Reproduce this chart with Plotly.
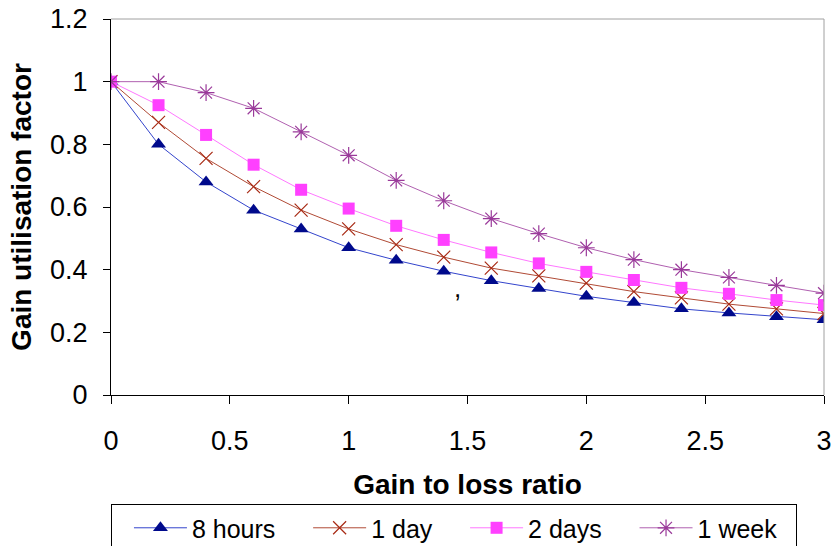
import plotly.graph_objects as go

x_vals = [0, 0.2, 0.4, 0.6, 0.8, 1.0, 1.2, 1.4, 1.6, 1.8, 2.0, 2.2, 2.4, 2.6, 2.8, 3.0]
hours8 = [1.0, 0.80, 0.68, 0.59, 0.53, 0.47, 0.43, 0.395, 0.365, 0.34, 0.315, 0.295, 0.275, 0.262, 0.25, 0.24]
day1 = [1.0, 0.87, 0.755, 0.665, 0.59, 0.53, 0.48, 0.44, 0.405, 0.38, 0.357, 0.33, 0.31, 0.29, 0.275, 0.26]
days2 = [1.0, 0.925, 0.83, 0.735, 0.655, 0.595, 0.54, 0.495, 0.455, 0.42, 0.393, 0.367, 0.342, 0.323, 0.303, 0.287]
week1 = [1.0, 1.0, 0.965, 0.915, 0.84, 0.765, 0.685, 0.62, 0.563, 0.515, 0.47, 0.432, 0.40, 0.375, 0.35, 0.325]
names = ["8 hours", "1 day", "2 days", "1 week"]

FONT = "Liberation Sans, Arial, sans-serif"
PAD = "\u00a0" * 4

fig = go.Figure()
fig.add_trace(go.Scatter(x=x_vals, y=hours8, name=names[0] + PAD, mode="lines+markers",
                         line=dict(color="#3344cc", width=1),
                         marker=dict(symbol="triangle-up", size=13, color="#000a8c")))
fig.add_trace(go.Scatter(x=x_vals, y=day1, name=names[1] + PAD, mode="lines+markers",
                         line=dict(color="#b04a35", width=1),
                         marker=dict(symbol="x-thin-open", size=13, color="#a82a14",
                                     line=dict(width=1.2, color="#a82a14"))))
fig.add_trace(go.Scatter(x=x_vals, y=days2, name=names[2] + PAD, mode="lines+markers",
                         line=dict(color="#ff77ff", width=1),
                         marker=dict(symbol="square", size=12, color="#ff40ff")))
fig.add_trace(go.Scatter(x=x_vals, y=week1, name=names[3] + "\u00a0\u00a0", mode="lines+markers",
                         line=dict(color="#b060b0", width=1),
                         marker=dict(symbol="asterisk-open", size=14, color="#9a3a9a",
                                     line=dict(width=1.2, color="#9a3a9a"))))

fig.add_annotation(x=1.46, y=0.34, text=",", showarrow=False, xref="x", yref="y",
                   font=dict(family=FONT, size=26, color="black"))

fig.update_layout(
    width=834, height=546,
    margin=dict(l=111, r=10, t=19, b=151, autoexpand=False),
    paper_bgcolor="white", plot_bgcolor="white",
    font=dict(family=FONT, size=27, color="black"),
    showlegend=True,
    legend=dict(orientation="h", x=0, y=-0.290, xanchor="left", yanchor="top",
                bordercolor="black", borderwidth=1, bgcolor="white",
                title=dict(text="\u00a0", side="left", font=dict(size=25)),
                font=dict(family=FONT, size=25), itemwidth=53, tracegroupgap=0),
    xaxis=dict(range=[0, 3], dtick=0.5, tickmode="linear", showgrid=False, zeroline=False,
               showline=True, linecolor="black", linewidth=1, ticks="outside", ticklen=8,
               tickcolor="black", ticklabelstandoff=14, mirror=False, automargin=False,
               tickfont=dict(size=27),
               title=dict(text="<b>Gain to loss ratio</b>", font=dict(size=28), standoff=18)),
    yaxis=dict(range=[0, 1.2], dtick=0.2, tickmode="linear", showgrid=False, zeroline=False,
               showline=True, linecolor="black", linewidth=1, ticks="outside", ticklen=7,
               tickcolor="black", ticklabelstandoff=10, automargin=False,
               tickformat="~g", tickfont=dict(size=27),
               title=dict(text="<b>Gain utilisation factor</b>", font=dict(size=28), standoff=10)),
)
# gray top and right border
fig.add_shape(type="line", xref="paper", yref="paper", x0=0, x1=1, y0=1, y1=1,
              line=dict(color="#a0a0a0", width=1))
fig.add_shape(type="line", xref="paper", yref="paper", x0=1, x1=1, y0=0, y1=1,
              line=dict(color="#a0a0a0", width=1))

fig.write_html("out.html")
